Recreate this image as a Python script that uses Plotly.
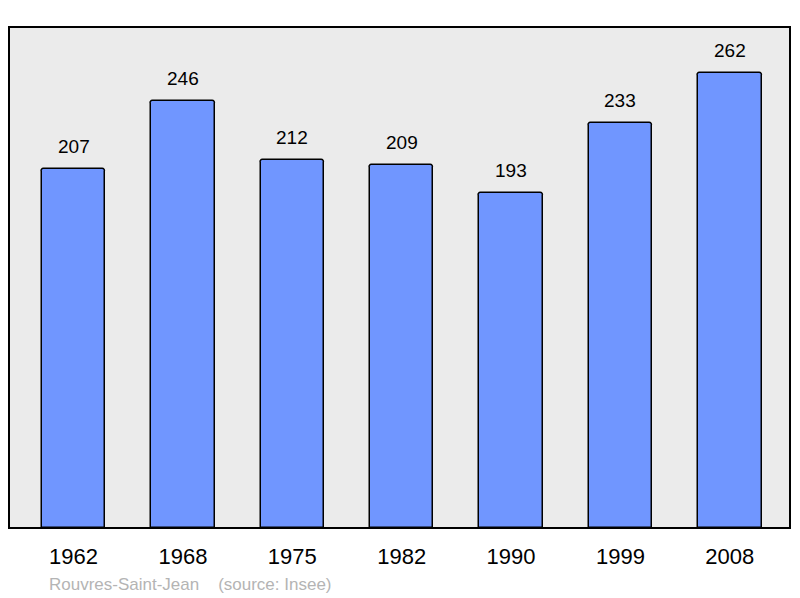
import plotly.graph_objects as go

years = ["1962", "1968", "1975", "1982", "1990", "1999", "2008"]
population = [207, 246, 212, 209, 193, 233, 262]
town = "Rouvres-Saint-Jean"
source = "(source: Insee)"

fig = go.Figure()
fig.add_trace(go.Bar(
    x=list(range(len(years))),
    y=population,
    width=0.58,
    marker=dict(color="#7096ff", line=dict(color="#000000", width=1.5), cornerradius=3),
    hoverinfo="skip",
))

for i, v in enumerate(population):
    fig.add_annotation(x=i, y=v, text=str(v), showarrow=False, yanchor="bottom",
                       yshift=10, font=dict(family="Liberation Sans, Arial", size=19, color="#000"))

fig.add_shape(type="rect", xref="paper", yref="paper", x0=0, y0=0, x1=1, y1=1,
              line=dict(color="#000", width=2), fillcolor="rgba(0,0,0,0)", layer="above")

fig.add_annotation(xref="paper", yref="paper", x=(47 - 9) / 781, y=-(584 - 528) / 501,
                   xanchor="left", yanchor="middle", showarrow=False,
                   text=town + "&nbsp;&nbsp;&nbsp;&nbsp;" + source,
                   font=dict(family="Liberation Sans, Arial", size=17, color="#b4b4b4"))

fig.update_layout(
    width=800, height=598,
    margin=dict(l=9, r=10, t=27, b=70),
    paper_bgcolor="#ffffff",
    plot_bgcolor="#ebebeb",
    showlegend=False,
    bargap=0,
    xaxis=dict(range=[-0.59, 6.55], tickmode="array", tickvals=list(range(len(years))),
               ticktext=years, showgrid=False, zeroline=False, ticks="outside", ticklen=9,
               tickcolor="rgba(0,0,0,0)",
               tickfont=dict(family="Liberation Sans, Arial", size=22, color="#000")),
    yaxis=dict(range=[0, 288.5], showgrid=False, zeroline=False, showticklabels=False, ticks=""),
)

fig.write_html("out.html", config={"displayModeBar": False},
               post_script="document.body.style.margin='0';document.body.style.overflow='hidden';")
